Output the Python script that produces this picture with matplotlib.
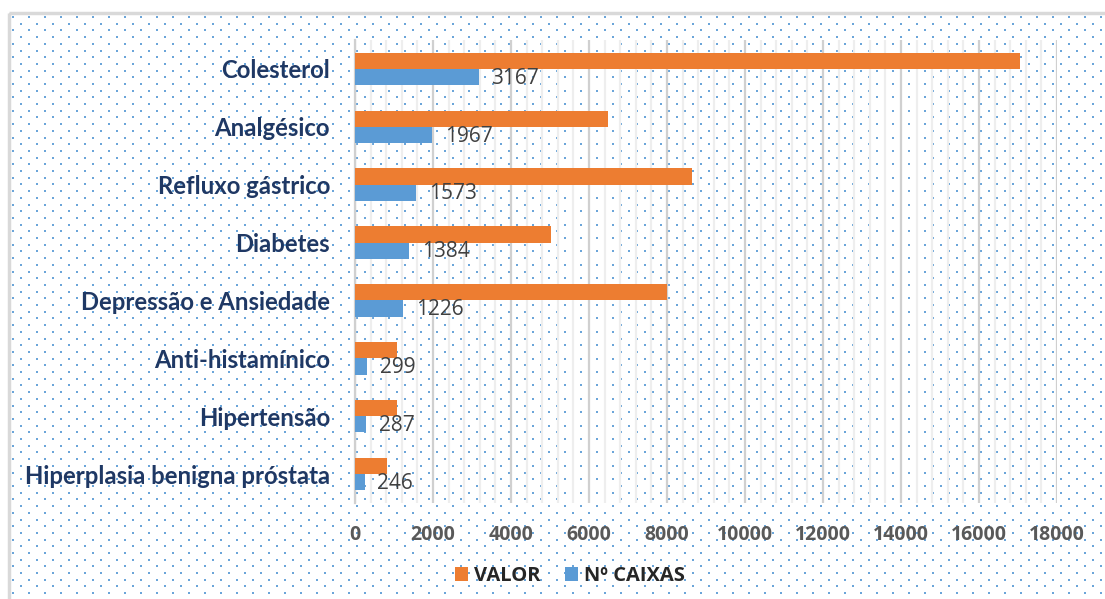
import numpy as np
import matplotlib.pyplot as plt
from matplotlib.patches import Rectangle
from matplotlib.ticker import MultipleLocator

categorias = ['Colesterol', 'Analgésico', 'Refluxo gástrico', 'Diabetes',
              'Depressão e Ansiedade', 'Anti-histamínico', 'Hipertensão',
              'Hiperplasia benigna próstata']
valor = [17050, 6490, 8640, 5030, 8000, 1085, 1070, 830]
caixas = [3167, 1967, 1573, 1384, 1226, 299, 287, 246]

laranja = '#ED7D31'
azul = '#5B9BD5'

W, H = 1105, 599
fig = plt.figure(figsize=(W / 100, H / 100), dpi=100)
fig.patch.set_facecolor('white')

# dotted background pattern (Excel style fill)
bg = fig.add_axes([0, 0, 1, 1])
bg.set_xlim(0, W)
bg.set_ylim(H, 0)
bg.axis('off')
xs, ys = [], []
for i, y in enumerate(np.arange(17, H, 6.7)):
    off = 0 if i % 2 == 0 else 8
    for x in np.arange(13 + off, W, 16):
        xs.append(x)
        ys.append(y)
bg.scatter(xs, ys, s=1.8, marker='s', color=azul, alpha=0.9, linewidths=0)
bg.add_patch(Rectangle((9, 13), W + 20, H + 20, fill=False,
                       edgecolor='#D9D9D9', linewidth=2.5))

ax = fig.add_axes([355 / W, 1 - 503 / H, (1057 - 355) / W, (503 - 40) / H])
ax.set_facecolor('none')

y = np.arange(len(categorias))
h = 0.28
ax.barh(y - h / 2, valor, height=h, color=laranja, label='VALOR', zorder=3)
ax.barh(y + h / 2, caixas, height=h, color=azul, label='Nº CAIXAS', zorder=3)

for yi, v in zip(y, caixas):
    ax.text(v + 330, yi + h / 2 + 0.02, str(v), va='center', ha='left',
            fontsize=15, color='#404040', family='Open Sans', zorder=4)

ax.set_xlim(0, 18000)
ax.set_ylim(len(categorias) - 0.5, -0.5)
ax.xaxis.set_major_locator(MultipleLocator(2000))
ax.xaxis.set_minor_locator(MultipleLocator(400))
ax.grid(which='major', axis='x', color='#D0D0D0', linewidth=1.6, zorder=1)
ax.grid(which='minor', axis='x', color='#EEEEEE', linewidth=1.6, zorder=0)
ax.set_yticks(y)
ax.set_yticklabels(categorias, fontsize=17.2, fontweight='bold',
                   color='#1F3864', family='Lato')
for s in ['top', 'right', 'bottom']:
    ax.spines[s].set_visible(False)
ax.spines['left'].set_color('#D0D0D0')
ax.spines['left'].set_linewidth(1.6)
ax.tick_params(axis='y', length=0, pad=18)
ax.tick_params(axis='x', which='both', length=0, pad=16, labelsize=14,
               labelcolor='#595959')
for t in ax.get_xticklabels():
    t.set_fontweight('bold')
    t.set_family('Open Sans')

leg = fig.legend(loc='center', bbox_to_anchor=(570 / W, 1 - 576 / H), ncol=2,
                 frameon=False, handlelength=0.65, handleheight=0.65,
                 handletextpad=0.3, columnspacing=1.2,
                 prop={'family': 'Open Sans', 'weight': 'bold', 'size': 14.5})
for t in leg.get_texts():
    t.set_color('#262626')

fig.savefig('out.png', dpi=100)
